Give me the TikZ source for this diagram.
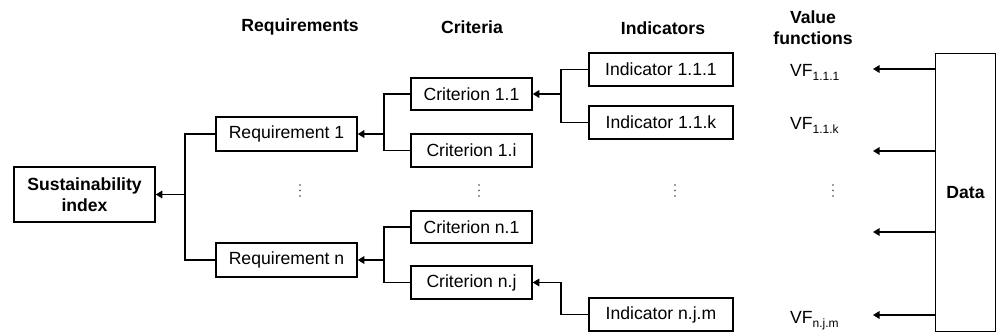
\documentclass[tikz,border=0pt]{standalone}
\usepackage{fontspec}
\setmainfont{Liberation Sans}
\usetikzlibrary{arrows.meta,calc}
\begin{document}
\begin{tikzpicture}[x=1pt,y=-1pt,
  every node/.style={font=\fontsize{17.6}{21}\selectfont},
  box/.style={draw,line width=1.5pt,minimum width=#1,inner sep=0pt},
  box/.default=121pt,
  hdr/.style={font=\fontsize{17.6}{21}\selectfont\bfseries,align=center},
  ln/.style={line width=1.5pt},
  arr/.style={line width=1.5pt,-{Triangle[length=6.5pt,width=7.5pt]}},
  dotc/.style={fill=black!75}]
\useasboundingbox (0,0) rectangle (997,333);
% headers
\node[hdr] (hR) at (300,27) {Requirements};
\node[hdr] (hC) at (472,27) {Criteria};
\node[hdr] (hI) at (663,28) {Indicators};
\node[hdr] (hV) at (813,28) {Value\\functions};
% nodes
\node[box=141pt,minimum height=55pt,align=center,font=\fontsize{17.6}{21}\selectfont\bfseries] (SI) at (84.5,194.5) {Sustainability\\index};
\node[box=141pt,minimum height=34pt] (R1) at (286.5,134) {Requirement 1};
\node[box=141pt,minimum height=34pt] (Rn) at (286.5,260) {Requirement n};
\node[box=121pt,minimum height=32pt] (C11) at (471.5,94) {Criterion 1.1};
\node[box=121pt,minimum height=33pt] (C1i) at (471.5,150.5) {Criterion 1.i};
\node[box=121pt,minimum height=32pt] (Cn1) at (471.5,227) {Criterion n.1};
\node[box=121pt,minimum height=33pt] (Cnj) at (471.5,282.5) {Criterion n.j};
\node[box=144pt,minimum height=33pt] (I111) at (661,69.5) {Indicator 1.1.1};
\node[box=144pt,minimum height=33pt] (I11k) at (661,122.5) {Indicator 1.1.k};
\node[box=144pt,minimum height=33pt] (Injm) at (661,314.5) {Indicator n.j.m};
\node[box=60pt,minimum height=278pt,font=\fontsize{17.6}{21}\selectfont\bfseries] (Data) at (965.5,192.5) {Data};
% value functions
\newcommand{\vfsub}[1]{\raisebox{-4.5pt}{\fontsize{12}{12}\selectfont #1}}
\node[anchor=base west,inner sep=0pt] (V1) at (790,76) {VF\vfsub{1.1.1}};
\node[anchor=base west,inner sep=0pt] (V2) at (790,129) {VF\vfsub{1.1.k}};
\node[anchor=base west,inner sep=0pt] (V3) at (790,323) {VF\vfsub{n.j.m}};
% dots
\foreach \x in {300,479,675,833}{
  \foreach \y in {185,190.5,196}{
    \fill[dotc] (\x,\y) circle (0.9pt);
  }
}
% junctions
\coordinate (j0) at (185,194.5);
\coordinate (j1) at (384,134);
\coordinate (j2) at (384,260);
\coordinate (j3) at (561,94);
\coordinate (j4) at (561,282.5);
\draw[ln] (R1.west) -| (j0) |- (Rn.west);
\draw[arr] (j0) -- (SI.east);
\draw[ln] (C11.west) -| (j1) |- (C1i.west);
\draw[arr] (j1) -- (R1.east);
\draw[ln] (Cn1.west) -| (j2) |- (Cnj.west);
\draw[arr] (j2) -- (Rn.east);
\draw[ln] (I111.west) -| (j3) |- (I11k.west);
\draw[arr] (j3) -- (C11.east);
\draw[arr] (Injm.west) -| (j4) -- (Cnj.east);
% data arrows
\foreach \y/\n in {69/a,151/b,232/c,315/d}{
  \coordinate (e\n) at (873,\y);
  \draw[arr] (Data.west |- e\n) -- (e\n);
}
\end{tikzpicture}
\end{document}
